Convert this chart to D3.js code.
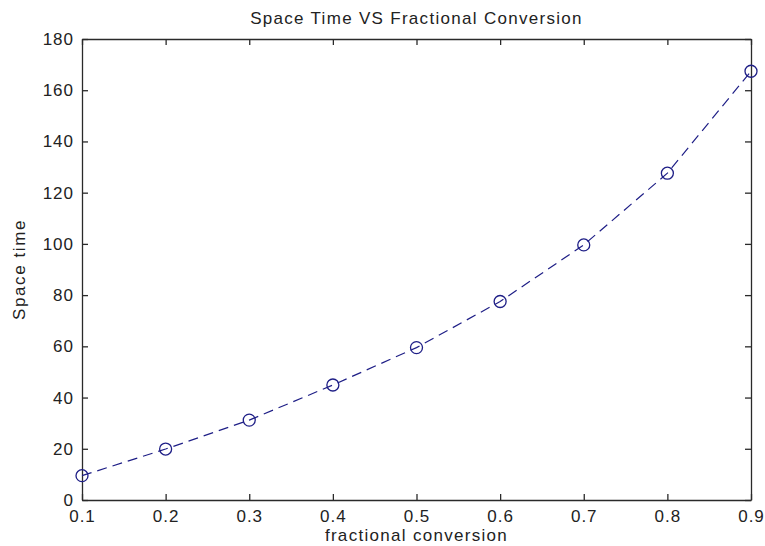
<!DOCTYPE html>
<html>
<head>
<meta charset="utf-8">
<script src="https://cdn.jsdelivr.net/npm/d3@7"></script>
<style>
  html, body { margin: 0; padding: 0; background: #fff; }
  svg { display: block; }
  text { font-family: "Liberation Sans", Arial, sans-serif; fill: #222; }
</style>
</head>
<body>
<svg id="chart" width="765" height="546"></svg>
<script>
// Fractional conversion (x) and the corresponding space time (y)
const conversion = [0.1, 0.2, 0.3, 0.4, 0.5, 0.6, 0.7, 0.8, 0.9];
const spaceTime  = [9.5, 19.9, 31.2, 44.9, 59.5, 77.5, 99.6, 127.6, 167.4];
const xTicks = [0.1, 0.2, 0.3, 0.4, 0.5, 0.6, 0.7, 0.8, 0.9];
const yTicks = [0, 20, 40, 60, 80, 100, 120, 140, 160, 180];

const W = 765, H = 546;
const margin = { left: 82, right: 14, top: 39, bottom: 46 };
const svg = d3.select("#chart");

const x = d3.scaleLinear().domain([0.1, 0.9]).range([margin.left, W - margin.right]);
const y = d3.scaleLinear().domain([0, 180]).range([H - margin.bottom, margin.top]);

const axisColor = "#2a2a2a";
const tickLen = 6;

// Box axes with inward ticks on all four sides
const axisBottomG = svg.append("g").attr("transform", `translate(0,${y(0)})`)
  .call(d3.axisBottom(x).tickValues(xTicks).tickSizeInner(-tickLen).tickSizeOuter(0).tickPadding(10)
        .tickFormat(d3.format(".1f")));
const axisTopG = svg.append("g").attr("transform", `translate(0,${y(180)})`)
  .call(d3.axisTop(x).tickValues(xTicks).tickSizeInner(-tickLen).tickSizeOuter(0).tickFormat(""));
const axisLeftG = svg.append("g").attr("transform", `translate(${x(0.1)},0)`)
  .call(d3.axisLeft(y).tickValues(yTicks).tickSizeInner(-tickLen).tickSizeOuter(0).tickPadding(8));
const axisRightG = svg.append("g").attr("transform", `translate(${x(0.9)},0)`)
  .call(d3.axisRight(y).tickValues(yTicks).tickSizeInner(-tickLen).tickSizeOuter(0).tickFormat(""));

[axisBottomG, axisTopG, axisLeftG, axisRightG].forEach(g => {
  g.select(".domain").attr("stroke", axisColor).attr("stroke-width", 1.3);
  g.selectAll(".tick line").attr("stroke", axisColor).attr("stroke-width", 1.3);
  g.selectAll(".tick text").attr("font-size", 17).attr("fill", "#222")
    .attr("letter-spacing", "1px")
    .attr("font-family", "'Liberation Sans', Arial, sans-serif");
});
axisBottomG.selectAll(".tick text").attr("dy", "0.71em");

// Dashed series line with open circle markers
const lineColor = "#1e1e86";
const pts = conversion.map((c, i) => [c, spaceTime[i]]);
svg.append("path")
  .datum(pts)
  .attr("fill", "none")
  .attr("stroke", lineColor)
  .attr("stroke-width", 1.2)
  .attr("stroke-dasharray", "10,6")
  .attr("d", d3.line().x(d => x(d[0])).y(d => y(d[1])));

svg.append("g").selectAll("circle")
  .data(pts)
  .join("circle")
  .attr("cx", d => x(d[0]))
  .attr("cy", d => y(d[1]))
  .attr("r", 6)
  .attr("fill", "none")
  .attr("stroke", lineColor)
  .attr("stroke-width", 1.3);

// Titles
svg.append("text")
  .attr("x", (x(0.1) + x(0.9)) / 2).attr("y", 24)
  .attr("text-anchor", "middle").attr("font-size", 17)
  .attr("letter-spacing", "1.3px")
  .text("Space Time VS Fractional Conversion");

svg.append("text")
  .attr("x", (x(0.1) + x(0.9)) / 2).attr("y", 541)
  .attr("text-anchor", "middle").attr("font-size", 17)
  .attr("letter-spacing", "1.3px")
  .text("fractional conversion");

svg.append("text")
  .attr("transform", `translate(25,${(y(0) + y(180)) / 2}) rotate(-90)`)
  .attr("text-anchor", "middle").attr("font-size", 17)
  .attr("letter-spacing", "1.6px")
  .text("Space time");
</script>
</body>
</html>
